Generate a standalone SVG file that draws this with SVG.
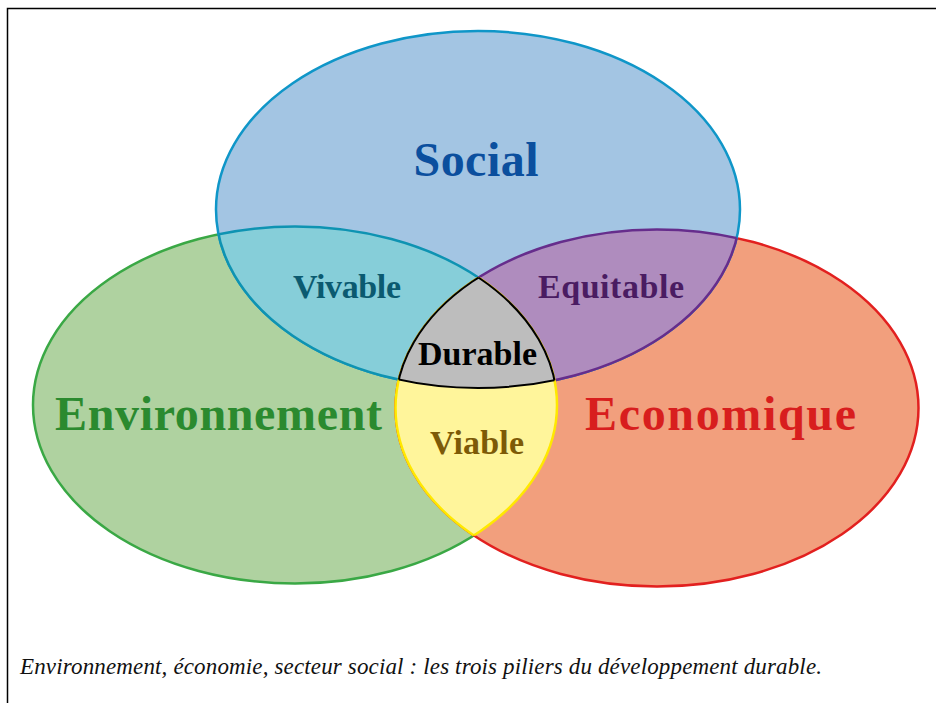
<svg xmlns="http://www.w3.org/2000/svg" width="936" height="703" viewBox="0 0 936 703">
  <defs>
    <clipPath id="cS"><ellipse cx="478" cy="209.5" rx="262" ry="178.5"/></clipPath>
    <clipPath id="cG"><ellipse cx="295" cy="405" rx="262" ry="178.5"/></clipPath>
    <clipPath id="cR"><ellipse cx="657" cy="408" rx="261.5" ry="178.5"/></clipPath>
    <style>
      .lbl { font-family: "Liberation Serif", "Times New Roman", serif; font-weight: bold; text-anchor: middle; }
      .big { font-size: 48px; }
      .small { font-size: 34px; }
      .cap { font-family: "Liberation Serif", "Times New Roman", serif; font-style: italic; font-size: 23px; fill: #111; }
    </style>
  </defs>
  <rect x="0" y="0" width="936" height="703" fill="#ffffff"/>
  <rect x="7.5" y="8.5" width="1000" height="800" fill="#ffffff" stroke="#000" stroke-width="1.5"/>

  <g id="environnement">
    <ellipse cx="295" cy="405" rx="262" ry="178.5" fill="#afd2a0" stroke="#3aa845" stroke-width="2.5"/>
  </g>
  <g id="economique">
    <ellipse cx="657" cy="408" rx="261.5" ry="178.5" fill="#f29f7d" stroke="#e2201f" stroke-width="2.5"/>
  </g>
  <g id="social">
    <ellipse cx="478" cy="209.5" rx="262" ry="178.5" fill="#a3c5e3" stroke="#0f96c8" stroke-width="2.5"/>
  </g>

  <g id="vivable">
    <g clip-path="url(#cG)"><ellipse cx="478" cy="209.5" rx="262" ry="178.5" fill="#86ced9" stroke="#0e93b2" stroke-width="2.5"/></g>
    <g clip-path="url(#cS)"><ellipse cx="295" cy="405" rx="262" ry="178.5" fill="none" stroke="#0e93b2" stroke-width="2.5"/></g>
  </g>
  <g id="equitable">
    <g clip-path="url(#cR)"><ellipse cx="478" cy="209.5" rx="262" ry="178.5" fill="#af8cbe" stroke="#662d8c" stroke-width="2.5"/></g>
    <g clip-path="url(#cS)"><ellipse cx="657" cy="408" rx="261.5" ry="178.5" fill="none" stroke="#662d8c" stroke-width="2.5"/></g>
  </g>
  <g id="viable">
    <g clip-path="url(#cR)"><ellipse cx="295" cy="405" rx="262" ry="178.5" fill="#fff59b" stroke="#ffe800" stroke-width="2.5"/></g>
    <g clip-path="url(#cG)"><ellipse cx="657" cy="408" rx="261.5" ry="178.5" fill="none" stroke="#ffe800" stroke-width="2.5"/></g>
  </g>
  <g id="durable">
    <g clip-path="url(#cS)"><g clip-path="url(#cG)"><ellipse cx="657" cy="408" rx="261.5" ry="178.5" fill="#bdbdbd" stroke="#000" stroke-width="2"/></g></g>
    <g clip-path="url(#cS)"><g clip-path="url(#cR)"><ellipse cx="295" cy="405" rx="262" ry="178.5" fill="none" stroke="#000" stroke-width="2"/></g></g>
    <g clip-path="url(#cG)"><g clip-path="url(#cR)"><ellipse cx="478" cy="209.5" rx="262" ry="178.5" fill="none" stroke="#000" stroke-width="2"/></g></g>
  </g>

  <g id="labels">
    <text class="lbl big" x="476" y="176" fill="#0b4f9e" textLength="125">Social</text>
    <text class="lbl big" x="218.5" y="430" fill="#2b8a2f" textLength="327">Environnement</text>
    <text class="lbl big" x="720.5" y="430" fill="#d81e1e" textLength="271">Economique</text>
    <text class="lbl small" x="347" y="298" fill="#0b5a70" textLength="108">Vivable</text>
    <text class="lbl small" x="611" y="298" fill="#4a1c62" textLength="146">Equitable</text>
    <text class="lbl small" x="477.5" y="365" fill="#000" textLength="119">Durable</text>
    <text class="lbl small" x="477" y="454" fill="#7d5a07" textLength="94">Viable</text>
  </g>

  <text class="cap" x="20" y="674" textLength="802">Environnement, économie, secteur social : les trois piliers du développement durable.</text>
</svg>
